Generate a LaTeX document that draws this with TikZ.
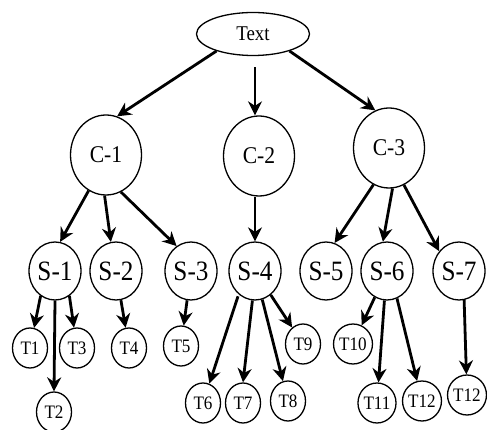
\documentclass[tikz,border=0pt]{standalone}
\usepackage{fontspec}
\setmainfont{Liberation Serif}[FakeStretch=0.9]
\usetikzlibrary{shapes.geometric,arrows.meta}
\tikzset{
	nd/.style={draw, ellipse, line width=1.3pt, inner sep=0pt},
	top/.style={nd, minimum width=113pt, minimum height=43pt, font=\fontsize{21}{21}\selectfont},
	cls/.style={nd, minimum width=71pt, minimum height=80pt, font=\fontsize{24}{24}\selectfont},
	sub/.style={nd, minimum width=52pt, minimum height=58pt, font=\fontsize{28}{28}\selectfont},
	leaf/.style={nd, minimum width=35pt, minimum height=40pt, font=\fontsize{19}{19}\selectfont},
	arr/.style={->, line width=2.8pt}
}
\begin{document}
\begin{tikzpicture}[x=1pt, y=-1pt, >={Stealth[length=14pt,width=14pt]}, line join=round]
	\useasboundingbox (0,0) rectangle (487,430);
	% root
	\node[top] (text) at (253,34) {Text};
	% C level
	\node[cls] (c1) at (106,155) {C-1};
	\node[cls] (c2) at (259,156) {C-2};
	\node[cls] (c3) at (389,148) {C-3};
	% S level
	\node[sub] (s1) at (55,271) {S-1};
	\node[sub] (s2) at (116,271) {S-2};
	\node[sub] (s3) at (191,271) {S-3};
	\node[sub] (s4) at (255,271) {S-4};
	\node[sub] (s5) at (326,271) {S-5};
	\node[sub] (s6) at (387,271) {S-6};
	\node[sub] (s7) at (459,271) {S-7};
	% T level
	\node[leaf] (t1) at (30,348) {T1};
	\node[leaf] (t2) at (54,412) {T2};
	\node[leaf] (t3) at (77,348) {T3};
	\node[leaf] (t4) at (129,348) {T4};
	\node[leaf] (t5) at (181,346) {T5};
	\node[leaf] (t6) at (203,403) {T6};
	\node[leaf] (t7) at (243,403) {T7};
	\node[leaf] (t8) at (288,401) {T8};
	\node[leaf] (t9) at (303,344) {T9};
	\node[leaf] (t10) at (353,344) {T10};
	\node[leaf] (t11) at (377,403) {T11};
	\node[leaf] (t12) at (422,401) {T12};
	\node[leaf] (t13) at (467,395) {T12};
	% arrows
	\draw[arr] (text.205) -- (c1.74);
	\draw[arr] ([shift={(2pt,-11pt)}]text.south) -- ([xshift=-4pt]c2.north);
	\draw[arr] (text.335) -- (c3.110);
	\foreach \a/\b in {c1.244/s1.80, c1.268/s2.100, c1.292/s3.120,
		c3.247/s5.73, c3.275/s6.98, c3.292/s7.135}
		\draw[arr] (\a) -- (\b);
	\draw[arr] ([xshift=-4pt]c2.south) -- (s4.north);
	\foreach \a/\b in {s1.240/t1, s1.south/t2.north, s1.300/t3, s2/t4, s3/t5,
		s4.265/t7.north, s4/t8, s4/t9, s6/t10, s6.265/t11, s6.290/t12, s7.280/t13}
		\draw[arr] (\a) -- (\b);
	\draw[arr, shorten <=2pt] (s4.235) -- (t6);
\end{tikzpicture}
\end{document}
